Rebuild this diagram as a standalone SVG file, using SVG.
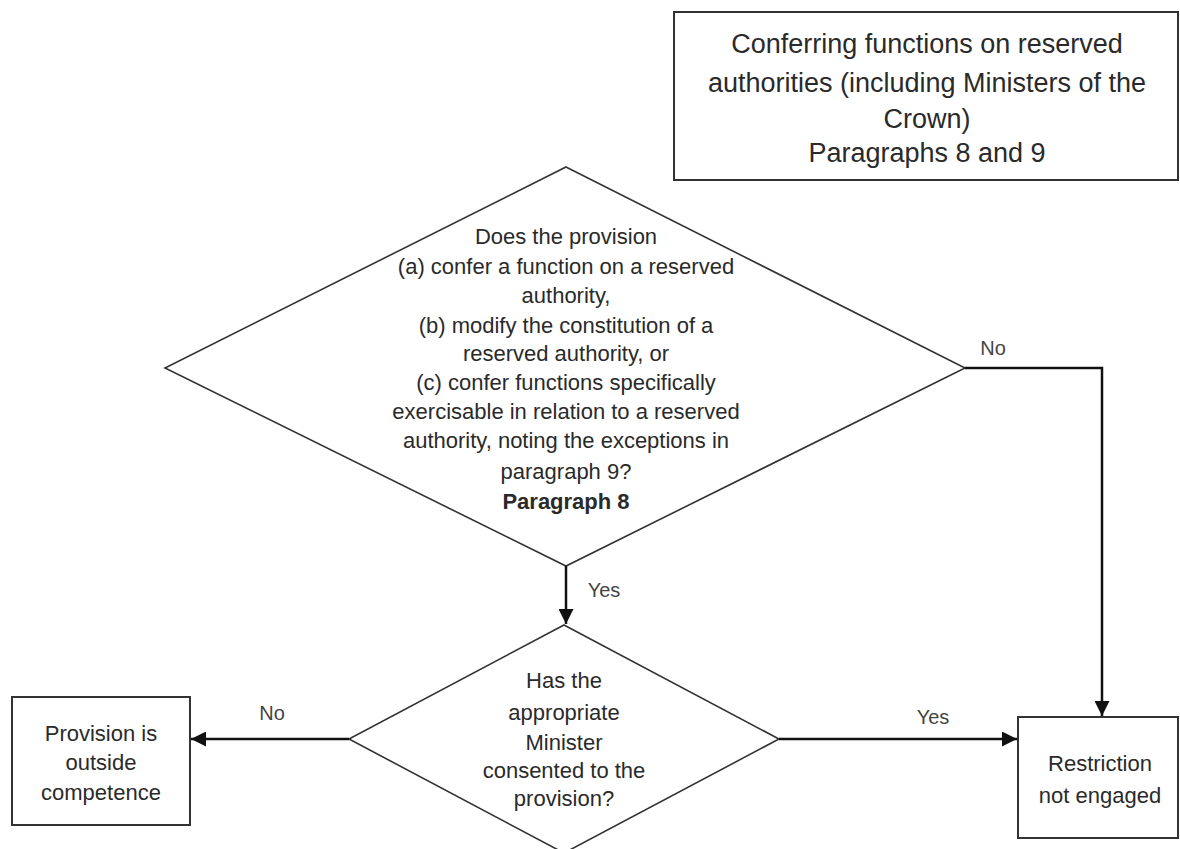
<svg xmlns="http://www.w3.org/2000/svg" width="1180" height="849" viewBox="0 0 1180 849">
<style>
.box{fill:#fff;stroke:#333;stroke-width:2}
.dia{fill:#fff;stroke:#333;stroke-width:1.6}
.t{font-family:"Liberation Sans",Arial,sans-serif;font-size:22px;fill:#2a2a2a;text-anchor:middle}
.title{font-size:27px}
.lbl{font-family:"Liberation Sans",Arial,sans-serif;font-size:20px;fill:#444;text-anchor:middle}
.conn{fill:none;stroke:#111;stroke-width:2.5;marker-end:url(#arr)}
</style>
<defs>
<marker id="arr" viewBox="0 0 10 10" refX="10" refY="5" markerWidth="6" markerHeight="6" orient="auto" markerUnits="strokeWidth">
<path d="M0,0 L10,5 L0,10 z" fill="#111"/>
</marker>
</defs>
<rect width="1180" height="849" fill="#fff"/>
<g id="title-box">
<rect class="box" x="674" y="12" width="504" height="168"/>
<text class="t title" x="927" y="53">Conferring functions on reserved</text>
<text class="t title" x="927" y="92">authorities (including Ministers of the</text>
<text class="t title" x="927" y="128">Crown)</text>
<text class="t title" x="927" y="162">Paragraphs 8 and 9</text>
</g>
<g id="q1">
<polygon class="dia" points="566,167 965,368 566,566 165,368"/>
<text class="t" x="566" y="244">Does the provision</text>
<text class="t" x="566" y="274">(a) confer a function on a reserved</text>
<text class="t" x="566" y="303">authority,</text>
<text class="t" x="566" y="333">(b) modify the constitution of a</text>
<text class="t" x="566" y="361">reserved authority, or</text>
<text class="t" x="566" y="390">(c) confer functions specifically</text>
<text class="t" x="566" y="419">exercisable in relation to a reserved</text>
<text class="t" x="566" y="448">authority, noting the exceptions in</text>
<text class="t" x="566" y="479">paragraph 9?</text>
<text class="t" x="566" y="509" font-weight="bold">Paragraph 8</text>
</g>
<g id="q2">
<polygon class="dia" points="564,625 779,739 564,853 349,739"/>
<text class="t" x="564" y="688">Has the</text>
<text class="t" x="564" y="720">appropriate</text>
<text class="t" x="564" y="750">Minister</text>
<text class="t" x="564" y="778">consented to the</text>
<text class="t" x="564" y="806">provision?</text>
</g>
<g id="outside">
<rect class="box" x="12" y="697" width="178" height="128"/>
<text class="t" x="101" y="741">Provision is</text>
<text class="t" x="101" y="770">outside</text>
<text class="t" x="101" y="800">competence</text>
</g>
<g id="not-engaged">
<rect class="box" x="1018" y="717" width="160" height="121"/>
<text class="t" x="1100" y="771">Restriction</text>
<text class="t" x="1100" y="803">not engaged</text>
</g>
<g id="connectors">
<path class="conn" d="M965,368 H1102 V716"/>
<path class="conn" d="M566,566 V624"/>
<path class="conn" d="M349,739 H191"/>
<path class="conn" d="M779,739 H1017"/>
<text class="lbl" x="993" y="355">No</text>
<text class="lbl" x="604" y="597">Yes</text>
<text class="lbl" x="272" y="720">No</text>
<text class="lbl" x="933" y="724">Yes</text>
</g>
</svg>
